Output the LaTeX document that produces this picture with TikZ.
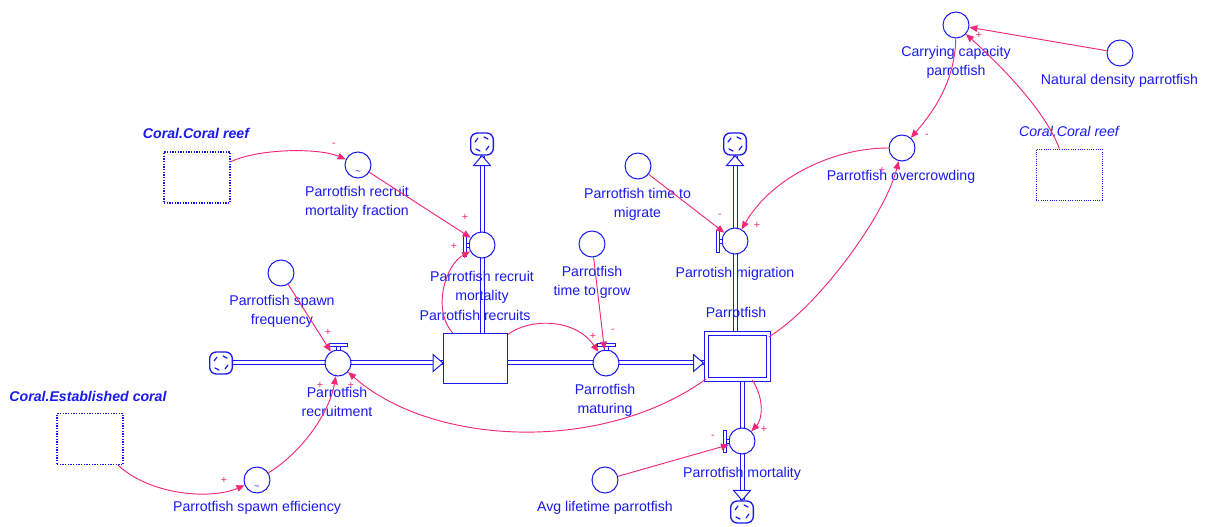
\documentclass[tikz,border=0pt]{standalone}
\usepackage{fontspec}
\setmainfont{Liberation Sans}
\usetikzlibrary{arrows.meta,calc,backgrounds}
\definecolor{vblue}{RGB}{25,25,240}
\definecolor{vlink}{RGB}{240,40,120}
\begin{document}
\begin{tikzpicture}[x=0.75pt,y=-0.75pt,
  font=\fontsize{10.6pt}{14.2pt}\selectfont,
  lbl/.style={text=vblue, align=center, inner sep=0pt},
  ghostlbl/.style={lbl, font=\fontsize{10.6pt}{14.2pt}\selectfont\itshape},
  aux/.style={circle, draw=vblue, line width=0.75pt, fill=white, minimum size=19.5pt, inner sep=0pt},
  valve/.style={aux},
  stockbox/.style={draw=vblue, fill=white, line width=0.75pt, minimum width=48pt, minimum height=37.5pt, inner sep=0pt},
  ghost/.style={draw=vblue, densely dotted, line width=1pt, minimum width=49.5pt, minimum height=38.25pt, inner sep=0pt},
  cloud/.style={draw=vblue, fill=white, rounded corners=5pt, line width=1pt, minimum width=17pt, minimum height=16.5pt, inner sep=0pt},
  swirl/.style={draw=vblue, line width=0.9pt, line cap=round},
  pipe/.style={draw=vblue, line width=0.75pt, double=white, double distance=2.25pt},
  pipetip/.style={draw=vblue, line width=0.75pt, fill=white, line join=miter},
  handle/.style={draw=vblue, line width=0.6pt, fill=white},
  link/.style={draw=vlink, line width=0.7pt, -{Triangle[length=6pt,width=5pt]}},
  sign/.style={text=vlink, font=\fontsize{8pt}{8pt}\selectfont, inner sep=0pt},
  tilde/.style={text=vblue, font=\fontsize{7pt}{7pt}\selectfont, inner sep=0pt}
]
\useasboundingbox (0,0) rectangle (1207,527);

% sources and sinks
\node[cloud] (cL) at (221,363) {};
\node[cloud] (cT1) at (482,144) {};
\node[cloud] (cT2) at (735,144) {};
\node[cloud] (cB) at (742,512) {};
\foreach \c in {cL,cT1,cT2,cB}{
  \draw[swirl] ($(\c)+(-7,-2)$) -- ++(3,-4);
  \draw[swirl] ($(\c)+(2,-7)$) -- ++(4,2);
  \draw[swirl] ($(\c)+(7,2)$) -- ++(-3,4);
  \draw[swirl] ($(\c)+(-2,7)$) -- ++(-4,-2);
}

% stocks
\node[stockbox] (recr) at (475.5,358.5) {};
\node[stockbox, double=white, double distance=2.25pt, minimum width=46.5pt, minimum height=34.5pt] (par) at (737.5,356.5) {};

% shadow variables
\node[ghost] (gReefL) at (197,177.5) {};
\node[ghost] (gEst) at (90,439) {};
\node[ghost, line width=0.7pt] (gReefR) at (1069,174.5) {};

% flow valves
\node[valve] (vR) at (338,363) {};
\node[valve] (vRM) at (482,245) {};
\node[valve] (vMat) at (606,363) {};
\node[valve] (vMig) at (735,241) {};
\node[valve] (vMort) at (742,441) {};

% auxiliaries
\node[aux] (rmf) at (358,165) {};
\node[aux] (sfreq) at (281,273) {};
\node[aux] (sEff) at (257,480) {};
\node[aux] (tGrow) at (592,244) {};
\node[aux] (tMig) at (638,166) {};
\node[aux] (avgL) at (605,480) {};
\node[aux] (over) at (902,148) {};
\node[aux] (carry) at (956,25) {};
\node[aux] (natD) at (1120,53) {};

\node[tilde] (tl1) at ($(rmf)+(0,8)$) {\textasciitilde};
\node[tilde] (tl2) at ($(sEff)+(0,8)$) {\textasciitilde};

% pipes
\begin{scope}[on background layer]
  \draw[pipe] (cL) -- (cL -| recr);
  \draw[pipe] (cL -| recr) -- (cL -| par);
  \draw[pipe] (cT1) -- (cT1 |- recr);
  \draw[pipe] (cT2) -- (cT2 |- par);
  \draw[pipe] (cB) -- (cB |- par);
\end{scope}

% pipe heads
\draw[pipetip] (cL -| recr.west) -- ++(-10,-8.5) -- ++(0,17) -- cycle;
\draw[pipetip] ($(cL -| par.west)+(-2.5,0)$) -- ++(-10,-8.5) -- ++(0,17) -- cycle;
\draw[pipetip] (cT1.south) -- ++(-8.5,10) -- ++(17,0) -- cycle;
\draw[pipetip] (cT2.south) -- ++(-8.5,10) -- ++(17,0) -- cycle;
\draw[pipetip] (cB.north) -- ++(-8.5,-10) -- ++(17,0) -- cycle;

% valve handles
\foreach \v in {vR,vMat}{
  \draw[handle] ($(\v)+(-2,-17)$) rectangle ($(\v)+(2,-13)$);
  \draw[handle] ($(\v)+(-9,-20)$) rectangle ($(\v)+(9,-17)$);
}
\foreach \v in {vRM,vMig,vMort}{
  \draw[handle] ($(\v)+(-16,-2)$) rectangle ($(\v)+(-13,2)$);
  \draw[handle] ($(\v)+(-19,-11)$) rectangle ($(\v)+(-16,11)$);
}

% labels
\node[ghostlbl, font=\fontsize{10.6pt}{14.2pt}\selectfont\bfseries\itshape] (lReefL) at (196,133) {Coral.Coral reef};
\node[ghostlbl, font=\fontsize{10.6pt}{14.2pt}\selectfont\bfseries\itshape] (lEst) at (88,396) {Coral.Established coral};
\node[ghostlbl] (lReefR) at (1069,131) {Coral.Coral reef};
\node[lbl] (lRmf) at (357,202.5) {Parrotfish recruit\\mortality fraction};
\node[lbl] (lSfreq) at (282,311.5) {Parrotfish spawn\\frequency};
\node[lbl] (lVR) at (337,402) {Parrotfish\\recruitment};
\node[lbl] (lVRM) at (482,287) {Parrotfish recruit\\mortality};
\node[lbl] (lRecr) at (475,315) {Parrotfish recruits};
\node[lbl] (lGrow) at (592,282) {Parrotfish\\time to grow};
\node[lbl] (lMat) at (605,400.5) {Parrotfish\\maturing};
\node[lbl] (lMigT) at (637.5,204.5) {Parrotfish time to\\migrate};
\node[lbl] (lMig) at (735,274) {Parrotish migration};
\node[lbl] (lPar) at (736,312) {Parrotfish};
\node[lbl] (lMort) at (742,474) {Parrotfish mortality};
\node[lbl] (lAvg) at (605,508) {Avg lifetime parrotfish};
\node[lbl] (lEff) at (257,508) {Parrotfish spawn efficiency};
\node[lbl] (lOver) at (901,177) {Parrotfish overcrowding};
\node[lbl] (lCarry) at (956,62.5) {Carrying capacity\\parrotfish};
\node[lbl] (lNat) at (1119.5,81) {Natural density parrotfish};

% causal links
\draw[link] (gReefL) .. controls (260,148) and (320,148) .. (rmf);
\draw[link] (rmf) -- (vRM);
\draw[link] (recr) .. controls (432,310) and (445,265) .. (vRM);
\draw[link] (recr) .. controls (530,318) and (575,318) .. (vMat);
\draw[link] (tGrow) -- (vMat);
\draw[link] (sfreq) -- (vR);
\draw[link] (gEst) .. controls (150,495) and (210,500) .. (sEff);
\draw[link] (sEff) .. controls (305,450) and (330,410) .. (vR);
\draw[link] (par) .. controls (600,455) and (430,445) .. (vR);
\draw[link] (par) .. controls (820,305) and (885,215) .. (over);
\draw[link] (carry) .. controls (955,80) and (935,110) .. (over);
\draw[link] (natD) -- (carry);
\draw[link] (gReefR) .. controls (1045,110) and (1000,65) .. (carry);
\draw[link] (over) .. controls (830,148) and (770,180) .. (vMig);
\draw[link] (tMig) -- (vMig);
\draw[link] (par) .. controls (765,400) and (762,420) .. (vMort);
\draw[link] (avgL) -- (vMort);

% link polarities
\node[sign] (s1) at (334,145) {-};
\node[sign] (s2) at (465,217) {+};
\node[sign] (s3) at (454,246) {+};
\node[sign] (s4) at (593,336) {+};
\node[sign] (s5) at (613,331) {-};
\node[sign] (s6) at (328,332) {+};
\node[sign] (s7) at (224,480) {+};
\node[sign] (s8) at (320,385) {+};
\node[sign] (s9) at (351,385) {+};
\node[sign] (s10) at (882,170) {+};
\node[sign] (s11) at (927,136) {-};
\node[sign] (s13) at (979,35) {+};
\node[sign] (s14) at (757,225) {+};
\node[sign] (s15) at (720,216) {-};
\node[sign] (s16) at (764,429) {+};
\node[sign] (s17) at (713,437) {-};
\end{tikzpicture}
\end{document}
